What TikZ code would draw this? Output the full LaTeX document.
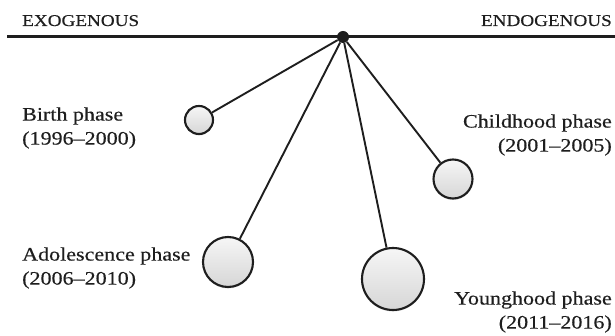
\documentclass[tikz,border=0pt]{standalone}
\usepackage{fontspec}
\setmainfont[FakeStretch=1.16,FakeBold=0.25]{Liberation Serif}
\usetikzlibrary{shadows}
\definecolor{ink}{HTML}{1E1E1E}
\tikzset{
  phasecircle/.style={circle, draw=ink, line width=2.1pt, inner sep=0pt,
    top color=gray!7, bottom color=gray!32,
    drop shadow={shadow xshift=0pt, shadow yshift=-1.5pt, opacity=0.25, fill=gray}},
  spoke/.style={draw=ink, line width=1.9pt},
  lbl/.style={font=\fontsize{19}{24}\selectfont, text=ink, inner sep=0pt},
  head/.style={font=\fontsize{16.5}{20}\selectfont, text=ink, inner sep=0pt},
}
\begin{document}
\begin{tikzpicture}[x=1pt,y=-1pt]
\useasboundingbox (0,0) rectangle (615,336);
\fill[white] (0,0) rectangle (615,336);
\coordinate (lstart) at (7,37);
\coordinate (lend) at (615,37);
\draw[ink, line width=3pt] (lstart) -- (lend);
\node[head, anchor=base west] (exo) at (22,26) {EXOGENOUS};
\node[head, anchor=base east] (endo) at (612,26) {ENDOGENOUS};
\node[circle, fill=ink, inner sep=0pt, minimum size=12pt] (hub) at (343,37) {};
\node[phasecircle, minimum size=28pt] (birth) at (199,120) {};
\node[phasecircle, minimum size=39pt] (child) at (453,179) {};
\node[phasecircle, minimum size=50pt] (adol) at (228,262) {};
\node[phasecircle, minimum size=62pt] (young) at (393,279) {};
\draw[spoke] (hub) -- (birth);
\draw[spoke] (hub) -- (child);
\draw[spoke] (hub) -- (adol);
\draw[spoke] (hub) -- (young);
\node[lbl, anchor=west, align=left] (lbirth) at (22,128) {Birth phase\\(1996–2000)};
\node[lbl, anchor=east, align=right] (lchild) at (612,135) {Childhood phase\\(2001–2005)};
\node[lbl, anchor=west, align=left] (ladol) at (22,268) {Adolescence phase\\(2006–2010)};
\node[lbl, anchor=east, align=right] (lyoung) at (612,312) {Younghood phase\\(2011–2016)};
\end{tikzpicture}
\end{document}
